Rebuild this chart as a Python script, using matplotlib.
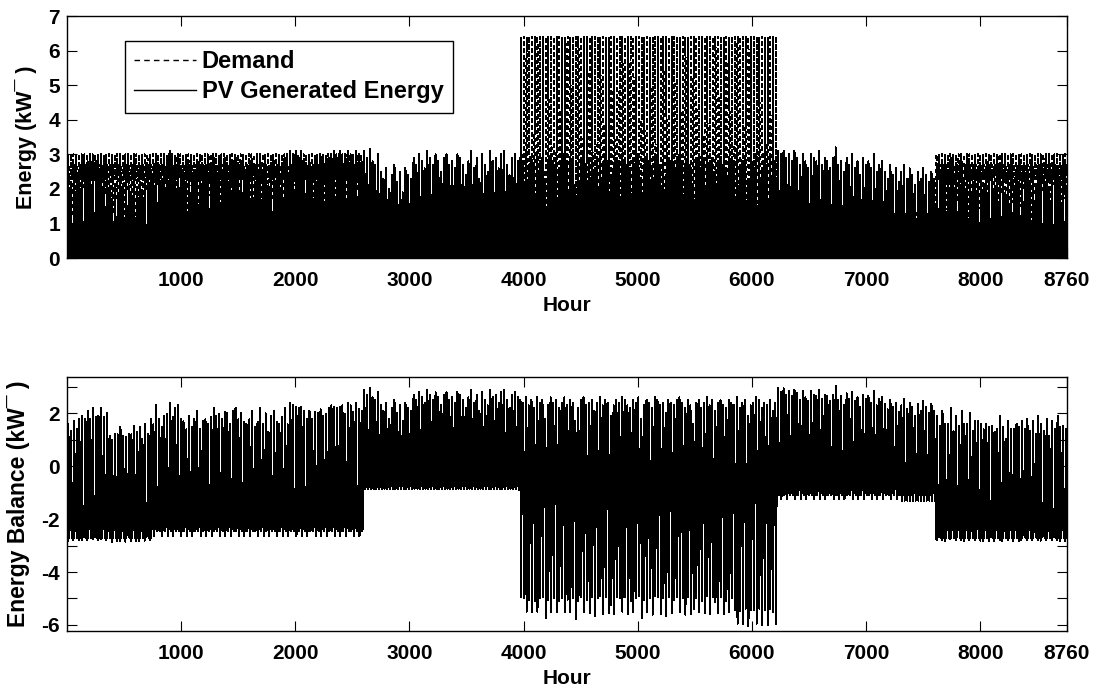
import numpy as np
import matplotlib
matplotlib.use("Agg")
import matplotlib.pyplot as plt

plt.rcParams["font.family"] = ["Liberation Sans", "DejaVu Sans"]
plt.rcParams["font.weight"] = "bold"
plt.rcParams["axes.unicode_minus"] = False

# daily PV peak (kW), one list per season
pv_peak_winter1 = [2.3, 2.2, 2.4, 2.3, 2.5, 2.6, 2.7,
                   2.8, 2.7, 2.9, 2.8, 2.6, 2.9, 2.8, 2.7,
                   2.0, 1.7, 2.1, 1.9, 2.2, 2.0, 1.8,
                   2.1, 1.9, 2.4, 2.0, 2.2, 1.9, 2.3, 2.1, 2.5,
                   2.4, 3.0, 2.5, 2.3, 2.6,
                   2.8, 3.1, 2.7, 2.9, 3.0, 2.6,
                   2.4, 2.2, 2.6, 2.3, 2.5, 2.8, 2.2, 2.4, 2.6, 2.3,
                   2.7, 2.9, 2.6, 2.8, 2.5, 2.9, 2.7, 2.4, 2.8, 2.9, 2.6, 2.7, 2.5,
                   2.3, 2.6, 2.8, 2.2, 2.5, 2.9, 2.4, 2.7, 2.1, 2.6, 2.8, 2.5, 2.3, 2.7, 2.9, 2.4,
                   3.1, 3.0, 3.1, 2.9, 3.1, 2.8,
                   2.6, 2.8, 2.5, 2.9, 2.7, 3.0, 2.6, 2.8, 2.9,
                   3.0, 3.1, 2.9, 3.1, 3.0, 2.8, 3.1, 3.0, 2.9, 3.1, 3.0, 2.8]
pv_peak_spring = [3.1, 2.9, 3.15, 2.8, 2.7, 3.0,
                  2.5, 2.3, 2.6, 2.0, 2.4, 2.7, 2.2, 2.5, 1.9, 2.6, 2.4, 2.3,
                  2.9, 2.7, 3.0, 2.8, 2.6, 3.1, 2.9, 2.7, 3.0, 2.8, 2.5, 2.9, 3.0, 2.7, 2.8, 2.6, 3.0, 2.9, 2.7,
                  2.4, 2.8, 3.1, 2.6, 2.9, 2.3, 3.0, 2.7, 2.5, 3.1, 2.8, 2.9, 2.6, 3.0, 3.1, 2.7, 2.4, 2.9, 3.0, 2.8]
pv_peak_summer = [2.9, 2.8, 3.0, 2.7, 2.9, 2.6, 3.0, 2.8, 2.9, 2.2, 2.7, 3.0, 2.8, 2.9, 2.6, 2.8,
                  3.0, 2.7, 2.9, 2.8, 2.1, 2.6, 2.9, 3.0, 2.7, 2.8, 2.9, 2.5, 2.8, 3.0, 2.7, 2.9, 2.8, 2.3, 2.7, 2.9,
                  2.8, 3.0, 2.9, 2.7, 2.6, 2.9, 2.8, 3.0, 2.2, 2.7, 2.9, 2.8, 2.6, 3.0, 2.9, 2.7, 2.8, 2.4, 2.9, 2.8,
                  2.7, 2.9, 3.0, 2.8, 2.6, 2.9, 2.7, 2.0, 2.8, 2.9, 2.6, 2.8, 3.0, 2.7, 2.9, 2.5, 2.8, 2.9, 2.7, 2.6,
                  2.9, 2.8, 2.7, 3.0, 2.6, 2.8, 2.9, 2.3, 2.7, 2.8, 3.0, 2.9, 2.6, 2.8, 2.7, 2.9, 2.5, 2.8]
pv_peak_fall = [3.1, 3.0, 3.1, 2.9, 3.0, 2.8, 3.1, 2.9, 2.7, 3.0, 2.8, 2.6, 3.0, 2.9, 2.8, 3.1, 2.7, 2.9,
                2.8, 2.6, 2.9, 3.2, 2.7, 2.8, 2.5, 2.9, 2.7, 3.0, 2.6, 2.8, 2.4, 2.9, 2.7, 2.8, 2.6, 3.0, 2.5, 2.7, 2.8,
                2.5, 2.3, 2.7, 2.4, 2.6, 2.2, 2.5, 2.7, 2.3, 2.6, 2.4, 2.1, 2.5, 2.3, 2.6, 2.4, 2.2, 2.5, 2.3]
pv_peak_winter2 = [2.6, 2.4, 2.8, 2.3, 2.5, 2.9, 2.2, 2.6, 2.4, 2.8, 2.3, 2.5, 2.7, 2.2, 2.4, 2.6,
                   2.3, 2.1, 2.5, 2.2, 2.4, 2.0, 2.3, 2.6, 2.2, 1.9, 2.4, 2.3, 2.1, 2.5, 2.2, 2.4,
                   2.3, 2.5, 2.2, 2.4, 2.1, 2.6, 2.3, 2.2, 2.5, 2.0, 2.4, 2.3, 2.6, 2.2, 2.4, 2.1]

# hourly PV shape (fraction of daily peak), by day length
pv_shape_short = [0, 0, 0, 0, 0, 0, 0, 0, 0.08, 0.35, 0.65, 0.88,
                  1.0, 0.92, 0.7, 0.4, 0.1, 0, 0, 0, 0, 0, 0, 0]
pv_shape_medium = [0, 0, 0, 0, 0, 0, 0, 0.08, 0.25, 0.5, 0.75, 0.93,
                   1.0, 0.95, 0.8, 0.58, 0.35, 0.15, 0.02, 0, 0, 0, 0, 0]
pv_shape_long = [0, 0, 0, 0, 0, 0.02, 0.1, 0.25, 0.45, 0.65, 0.83, 0.95,
                 1.0, 0.97, 0.87, 0.7, 0.5, 0.3, 0.12, 0.02, 0, 0, 0, 0]
month_days = [31, 28, 31, 30, 31, 30, 31, 31, 30, 31, 30, 31]
month_shape = ["short", "medium", "medium", "medium", "long", "long",
               "long", "long", "medium", "medium", "short", "short"]

# hourly household demand (kW) for a typical day of each season
demand_winter = [2.3, 2.3, 2.3, 2.3, 2.3, 2.3, 2.3, 2.6, 3.0, 2.4, 1.6, 1.0,
                 0.7, 0.7, 0.9, 1.6, 2.2, 2.7, 2.4, 2.45, 2.4, 2.35, 2.3, 2.3]
demand_spring = [0.75, 0.75, 0.75, 0.75, 0.75, 0.75, 0.8, 0.7, 0.5, 0.3, 0.25, 0.2,
                 0.2, 0.2, 0.25, 0.3, 0.4, 0.55, 0.7, 0.8, 0.85, 0.85, 0.8, 0.78]
demand_summer = [0.9, 0.85, 0.8, 0.8, 0.8, 0.85, 0.9, 0.8, 0.6, 0.5, 0.45, 0.4,
                 0.4, 0.5, 1.8, 3.8, 6.4, 5.0, 3.8, 3.0, 2.3, 1.7, 1.3, 1.0]
demand_fall = [0.85, 0.85, 0.85, 0.85, 0.85, 0.85, 1.0, 1.1, 0.9, 0.6, 0.3, 0.2,
               0.15, 0.15, 0.2, 0.4, 0.8, 1.3, 1.0, 1.05, 1.1, 1.0, 0.95, 0.9]
# demand runs an hour later on some days of the week
weekday_shift = [0, 1, 0, 1, 0, 0, 1]

# build the 8760-hour series
seasons = [(pv_peak_winter1, demand_winter), (pv_peak_spring, demand_spring),
           (pv_peak_summer, demand_summer), (pv_peak_fall, demand_fall),
           (pv_peak_winter2, demand_winter)]
pv_peak = np.concatenate([np.array(p) for p, d in seasons])
demand_day = np.vstack([np.tile(d, (len(p), 1)) for p, d in seasons])
day_shift = np.resize(weekday_shift, len(pv_peak))
demand_day = np.array([np.roll(row, s) for row, s in zip(demand_day, day_shift)])
shapes = {"short": pv_shape_short, "medium": pv_shape_medium, "long": pv_shape_long}
day_month = np.repeat(np.arange(12), month_days)
shape_day = np.array([shapes[month_shape[m]] for m in day_month])

pv = (pv_peak[:, None] * shape_day).ravel()
demand = demand_day.ravel()
balance = pv - demand
hours = np.arange(1, len(pv) + 1)

xticks = [1000, 2000, 3000, 4000, 5000, 6000, 7000, 8000, 8760]
lw = 0.72

fig = plt.figure(figsize=(11, 6.91), dpi=100)
ax1 = fig.add_axes([0.0609, 0.6266, 0.9091, 0.3502])
ax2 = fig.add_axes([0.0609, 0.0868, 0.9091, 0.3676])

ax1.plot(hours, demand, color="black", linestyle=(0, (4, 3)), linewidth=lw,
         antialiased=False, label="Demand")
ax1.plot(hours, pv, color="black", linewidth=lw, antialiased=False,
         label="PV Generated Energy")
ax1.set_ylim(0, 7)
ax1.set_yticks(range(0, 8))
ax1.set_ylabel("Energy (kW\u00af )", fontsize=15.5, fontweight="bold")
ax1.yaxis.set_label_coords(-0.030, 0.5)
leg = ax1.legend(loc="upper left", bbox_to_anchor=(0.058, 0.897), borderaxespad=0,
                 fancybox=False, framealpha=1, edgecolor="black", fontsize=17,
                 handlelength=2.6, handletextpad=0.25, borderpad=0.4, labelspacing=0.3)
leg.get_frame().set_linewidth(1.0)
for line in leg.get_lines():
    line.set_linewidth(1.0)

ax2.plot(hours, balance, color="black", linewidth=lw, antialiased=False)
ax2.set_ylim(-6.23, 3.37)
ax2.set_yticks(range(-6, 4))
ax2.set_yticklabels([str(v) if v % 2 == 0 else "" for v in range(-6, 4)])
ax2.set_ylabel("Energy Balance (kW\u00af )", fontsize=16.5, fontweight="bold")
ax2.yaxis.set_label_coords(-0.037, 0.5)

for ax in (ax1, ax2):
    ax.set_xlim(1, 8760)
    ax.set_xticks(xticks)
    ax.set_xlabel("Hour", fontsize=15, fontweight="bold", labelpad=5)
    ax.tick_params(direction="in", length=7, width=0.8, top=True, right=True,
                   labelsize=15)
    ax.tick_params(axis="x", pad=9)
    ax.tick_params(axis="y", pad=5)
    for s in ax.spines.values():
        s.set_linewidth(1.0)

fig.savefig("out.png", dpi=100)
